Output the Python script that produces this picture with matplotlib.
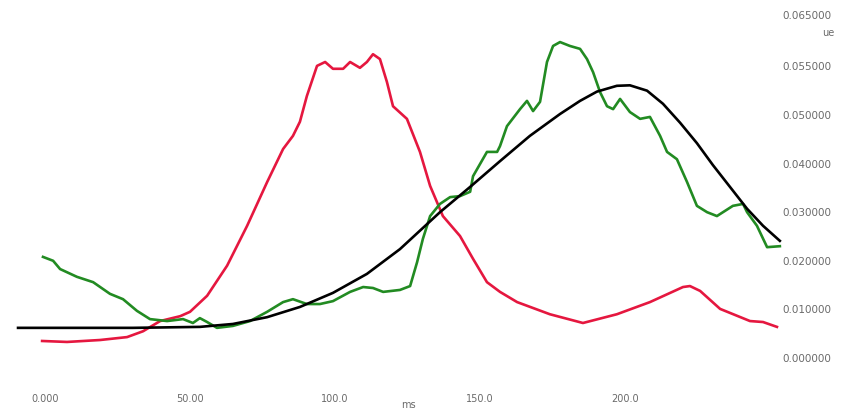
import numpy as np
from matplotlib import pyplot as plt

"""#Data"""

t_black = [-9.3, 30.3, 53.4, 64.8, 76.6, 87.9, 99.3, 111.0, 122.4, 136.2, 146.6,
           156.9, 167.2, 177.6, 184.5, 190.3, 197.2, 201.7, 207.6, 213.1, 219.0,
           224.8, 230.3, 236.2, 242.1, 247.6, 253.4]
v_black = [0.0060, 0.0060, 0.0062, 0.0068, 0.0082, 0.0103, 0.0132, 0.0171, 0.0222,
           0.0298, 0.0350, 0.0403, 0.0455, 0.0500, 0.0527, 0.0546, 0.0558, 0.0559,
           0.0548, 0.0521, 0.0482, 0.0440, 0.0395, 0.0350, 0.0305, 0.0270, 0.0239]

t_red = [-1.0, 7.6, 19.0, 28.3, 33.8, 39.7, 46.6, 50.0, 55.9, 62.8, 69.7, 76.6, 82.1,
         85.5, 87.9, 90.3, 93.8, 96.6, 99.3, 102.8, 105.2, 108.6, 111.0, 113.1, 115.5,
         117.9, 120.0, 124.8, 129.3, 132.8, 137.2, 143.1, 147.6, 152.4, 156.9, 162.8,
         174.1, 185.5, 197.2, 208.6, 220.0, 222.4, 225.9, 232.8, 243.1, 247.6, 252.4]
v_red = [0.0033, 0.0031, 0.0035, 0.0041, 0.0053, 0.0074, 0.0084, 0.0093, 0.0126, 0.0188,
         0.0270, 0.0360, 0.0428, 0.0455, 0.0484, 0.0537, 0.0599, 0.0607, 0.0593, 0.0593,
         0.0607, 0.0595, 0.0607, 0.0623, 0.0613, 0.0566, 0.0516, 0.0490, 0.0422, 0.0352,
         0.0290, 0.0249, 0.0202, 0.0154, 0.0134, 0.0113, 0.0088, 0.0070, 0.0088, 0.0113,
         0.0144, 0.0146, 0.0136, 0.0099, 0.0074, 0.0072, 0.0062]

t_green = [-0.7, 2.8, 5.2, 11.0, 16.6, 22.4, 26.9, 31.7, 36.2, 42.1, 47.6, 51.0, 53.4,
           55.9, 59.3, 64.8, 70.7, 76.6, 82.1, 85.5, 90.3, 94.8, 99.3, 105.2, 109.7,
           113.1, 116.6, 122.4, 125.9, 128.3, 130.3, 132.8, 136.2, 139.7, 143.1, 146.6,
           147.6, 152.4, 155.9, 156.9, 159.3, 163.8, 166.2, 168.3, 170.7, 173.1, 175.2,
           177.6, 181.0, 184.5, 186.9, 189.0, 191.4, 193.8, 195.9, 198.3, 201.7, 205.2,
           208.6, 212.1, 214.5, 217.9, 221.4, 224.8, 228.3, 231.7, 237.2, 240.7, 242.1,
           245.5, 249.0, 253.4]
v_green = [0.0206, 0.0198, 0.0181, 0.0165, 0.0154, 0.0130, 0.0119, 0.0095, 0.0078,
           0.0074, 0.0078, 0.0070, 0.0080, 0.0072, 0.0060, 0.0064, 0.0074, 0.0093,
           0.0113, 0.0119, 0.0109, 0.0109, 0.0115, 0.0134, 0.0144, 0.0142, 0.0134,
           0.0138, 0.0146, 0.0195, 0.0243, 0.0290, 0.0315, 0.0329, 0.0331, 0.0340,
           0.0372, 0.0422, 0.0422, 0.0434, 0.0475, 0.0510, 0.0527, 0.0506, 0.0525,
           0.0607, 0.0640, 0.0648, 0.0640, 0.0634, 0.0613, 0.0586, 0.0545, 0.0516,
           0.0510, 0.0531, 0.0504, 0.0490, 0.0494, 0.0455, 0.0422, 0.0407, 0.0360,
           0.0311, 0.0298, 0.0290, 0.0311, 0.0315, 0.0298, 0.0270, 0.0226, 0.0228]

x_ticks = [0, 50, 100, 150, 200]
x_labels = ['0.000', '50.00', '100.0', '150.0', '200.0']
y_ticks = [0.0, 0.01, 0.02, 0.03, 0.04, 0.05, 0.06, 0.0706]
y_labels = ['0.000000', '0.010000', '0.020000', '0.030000', '0.040000',
            '0.050000', '0.055000', '0.065000']

"""#Plot"""

grey = '#6a6a6a'
fig = plt.figure(figsize=(8.47, 4.14), dpi=100)
ax = fig.add_axes([0.0, 24 / 414, 780 / 847, 390 / 414])

ax.plot(t_red, v_red, c='#e5173f', lw=1.9, clip_on=False)
ax.plot(t_green, v_green, c='#228b22', lw=1.9, clip_on=False)
ax.plot(t_black, v_black, c='black', lw=1.9, clip_on=False)

ax.set_xlim(-15.52, 253.45)
ax.set_ylim(-0.00658, 0.07366)
for s in ax.spines.values():
    s.set_visible(False)

ax.set_xticks(x_ticks)
ax.set_xticklabels(x_labels)
ax.set_yticks(y_ticks)
ax.set_yticklabels(y_labels)
ax.yaxis.tick_right()
ax.tick_params(axis='x', length=0, pad=3, labelsize=7, labelcolor=grey)
ax.tick_params(axis='y', length=0, pad=2, labelsize=7.5, labelcolor=grey)

fig.text(408 / 847, 1 - 405 / 414, 'ms', ha='center', va='center', fontsize=7, color=grey)
fig.text(828 / 847, 1 - 33 / 414, 'ue', ha='center', va='center', fontsize=7, color=grey)

plt.savefig('out.png', dpi=100)
